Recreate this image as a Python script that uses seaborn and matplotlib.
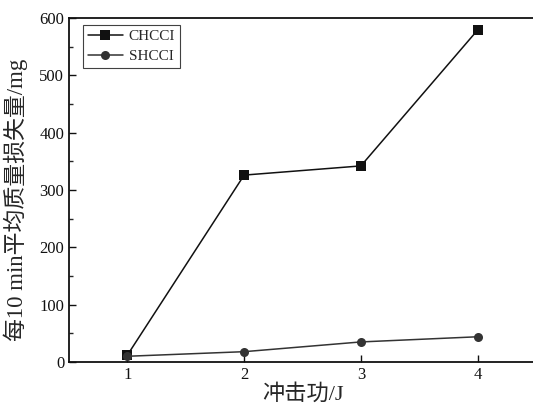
import seaborn as sns
import pandas as pd
import matplotlib.pyplot as plt

# impact energy (J) and mean mass loss per 10 min (mg)
energy = [1, 2, 3, 4]
chcci = [12, 326, 342, 579]
shcci = [10, 18, 35, 44]
series = ['CHCCI', 'SHCCI']

df = pd.DataFrame({
    'energy': energy * 2,
    'loss': chcci + shcci,
    'type': ['CHCCI'] * 4 + ['SHCCI'] * 4,
})

sns.set_style('ticks')
plt.rcParams['font.family'] = ['Liberation Serif', 'Noto Sans CJK SC']
plt.rcParams['xtick.direction'] = 'in'
plt.rcParams['ytick.direction'] = 'in'

fig = plt.figure(figsize=(5.33, 4.08), dpi=100)
ax = fig.add_axes([69 / 533, 46 / 408, 467 / 533, 344 / 408])

ax = sns.lineplot(data=df, x='energy', y='loss', hue='type', style='type',
                  markers={'CHCCI': 's', 'SHCCI': 'o'}, dashes=False,
                  palette={'CHCCI': '#111111', 'SHCCI': '#333333'},
                  markersize=6.5, linewidth=1.1, markeredgewidth=0, ax=ax)

ax.set_xlim(0.5, 4.5)
ax.set_ylim(0, 600)
ax.set_xticks(energy)
ax.set_yticks(range(0, 601, 100))
ax.set_yticks(range(50, 600, 100), minor=True)
ax.tick_params(axis='both', which='major', labelsize=12, length=5, width=1, colors='#111111')
ax.tick_params(axis='y', which='minor', length=3, width=1)
for s in ax.spines.values():
    s.set_linewidth(1.3)
    s.set_color('#111111')

ax.set_xlabel('冲击功/J', fontsize=16, labelpad=1)
ax.set_ylabel('每10 min平均质量损失量/mg', fontsize=16.5)
ax.yaxis.set_label_coords(-0.087, 0.47)

leg = ax.legend(loc='upper left', fontsize=11, frameon=True, fancybox=False,
                edgecolor='#111111', handlelength=2.3, borderpad=0.3,
                labelspacing=0.4, handletextpad=0.4, borderaxespad=0,
                bbox_to_anchor=(0.03, 0.98))
leg.get_frame().set_linewidth(0.8)

fig.savefig('out.png', dpi=100)
